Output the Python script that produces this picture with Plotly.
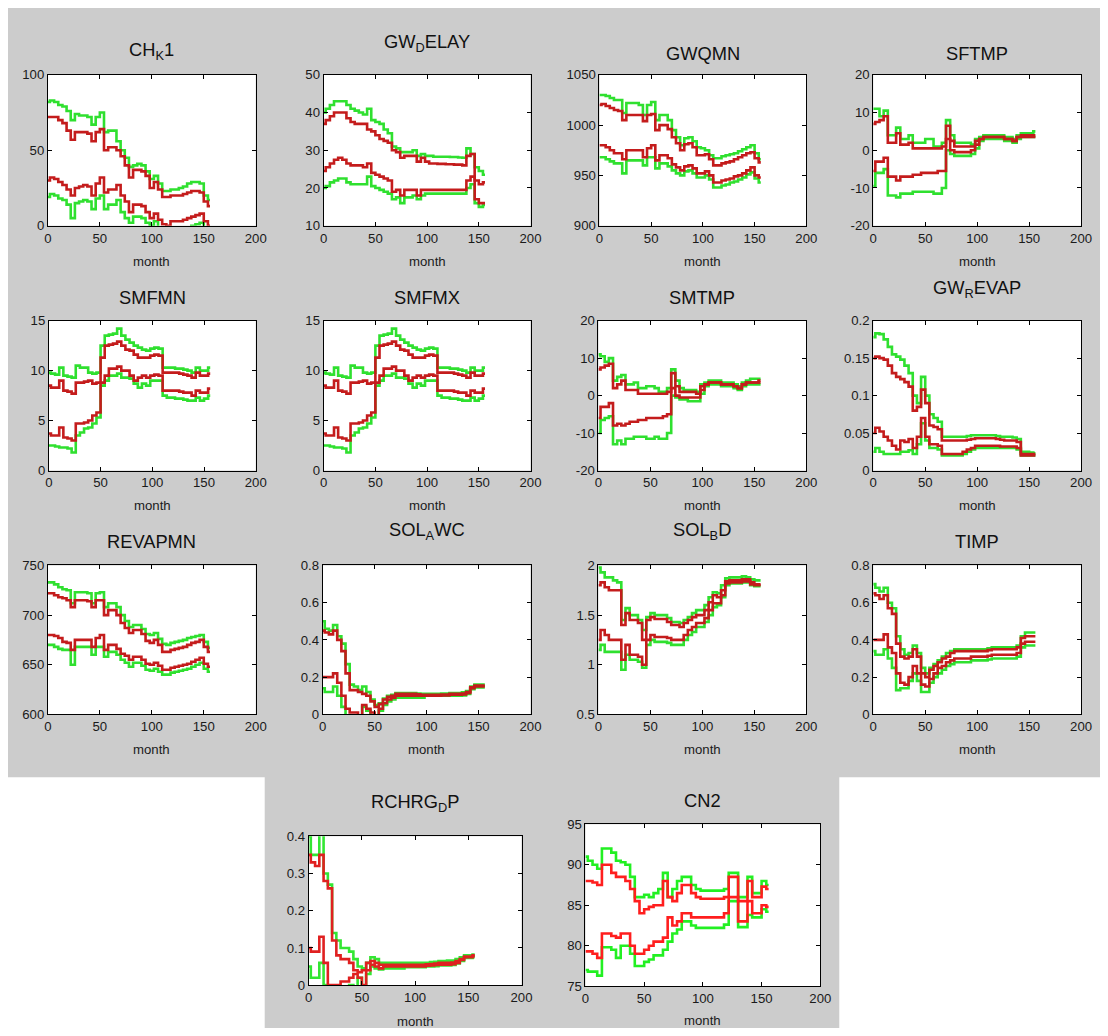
import plotly.graph_objects as go

PAGE_MARGIN = 8               # default body margin of the html page
FW, FH = 1092, 1020           # figure size (fits the 1108x1036 window with the body margin)
months = list(range(0, 157, 4))

# ---------------- data (values at months 0,4,...,156) ----------------
chk1_gup = [82,83,82,80,79,76,70,74,73,73,72,67,72,75,62,63,63,56,50,45,39,40,41,40,36,31,33,28,23,23,24,24,25,26,28,29,29,28,20,17]
chk1_rup = [72,72,72,70,68,63,57,62,62,62,61,56,62,64,50,52,52,50,46,40,32,37,37,36,33,25,29,24,19,19,20,20,20,21,22,23,23,22,16,13]
chk1_rlo = [30,32,31,29,27,24,20,25,26,27,26,20,28,32,22,24,24,27,20,16,9,14,14,13,9,5,8,4,1,0,3,3,3,4,5,6,7,8,3,0]
chk1_glo = [19,21,20,18,17,14,5,15,16,17,16,11,18,20,11,14,14,17,9,5,2,6,6,5,2,0,3,-2,-4,-5,-3,-3,-3,-2,-1,0,1,2,-2,-5]

gwd_gup = [40,41,42,43,43,43,42,41,40.5,40,39.5,41,38,37.5,37,35.5,34.5,31,30.5,29.5,29.5,29.5,30,28.5,29,28.5,28.5,28.3,28.3,28.3,28.3,28.2,28.2,28.1,28,30.5,29,25.5,24.5,23.5]
gwd_rup = [37,38,39,40,40,40,38.5,37.5,37,37,37,35.5,35,34,33,32.5,32,30,29.5,28,28.5,28.5,28.5,27,28,27,26.5,26.5,26.4,26.4,26.3,26.3,26.2,26.2,26,28.5,29,22,21,21.5]
gwd_rlo = [24.5,25.5,26.5,27.5,28,27.5,26.5,26,26,26,25.5,26.5,24,23.5,23,22.5,22,19,19.5,18,19.5,19.5,19.5,18,19.5,19.5,19.5,19.5,19.5,19.5,19.5,19.5,19.5,19.5,19.5,22,23,17,16,16]
gwd_glo = [20,20.5,21.5,22,22.5,22.5,21.5,21,21,21,21,23,20.5,20,19.5,19,18.5,17,17.5,16,17.5,17.5,18,17,18,18.5,18.5,18.5,18.5,18.5,18.5,18.5,18.5,18.5,18.5,20,21,16,15,15.5]

gwq_gup = [1030,1030,1029,1027,1025,1025,1012,1022,1022,1022,1020,1010,1020,1023,1005,1010,1010,1005,995,988,980,987,988,984,978,977,975,970,967,967,969,970,971,972,974,976,978,980,972,966]
gwq_rup = [1020,1021,1019,1017,1015,1014,1005,1010,1010,1010,1010,1004,1010,1011,995,1000,1000,996,988,982,975,981,982,978,970,970,971,966,960,960,962,963,964,966,968,970,972,973,967,963]
gwq_rlo = [980,980,978,975,972,972,966,975,975,975,975,968,977,980,965,970,970,967,961,958,955,959,960,957,952,952,954,950,943,943,945,946,947,949,950,952,955,958,950,948]
gwq_glo = [968,968,966,964,962,962,952,965,965,965,965,960,968,968,957,962,962,959,955,952,950,954,955,952,948,948,950,946,938,938,940,941,943,944,946,948,951,953,947,943]

sft_gup = [11,11,9,10.5,4,4,6,3,3,4,2,2,2,3,3,1,1,2,8,4,2,2,2,2,1.5,3,3.5,4,4,4,4,4,3.5,3.5,3,4,4.5,4.5,4.5,5]
sft_rup = [7,7.5,8,9,2,2,4.5,1.5,1.5,2,0.5,0.5,0.5,0.5,0.5,0.5,0.5,1,6.5,2.5,1,1,1,1,1,2.5,3,3.5,3.5,3.5,3.5,3.5,3,3,2.5,3.5,4,4,4,4]
sft_rlo = [-5.5,-3,-3,-2,-7,-7,-8,-7,-7,-7,-6.5,-6.5,-6,-6,-6,-6,-5.5,-5.5,3,0,-0.5,-0.5,-0.5,-0.5,0,1.5,3,3.5,3.5,3.5,3.5,3.5,3,3,2.5,3.5,3.5,3.5,3.5,3.5]
sft_glo = [-9.5,-6,-6,-5,-12,-12,-12.5,-11.5,-11.5,-11.5,-11,-11,-11,-11,-11,-11.5,-11.5,-10,0,-1,-1.5,-1.5,-1.5,-1.5,-1,0.5,2.5,3,3,3,3,3,2.5,2.5,2,3,3.5,3.5,3.5,3.5]

smn_gup = [9.8,9.7,9.6,10.3,9.5,9.4,9.3,10.5,10.3,10.3,9.8,9.7,9.8,12.5,13.5,13.6,13.7,14.2,13.5,13.1,12.8,12.5,12.3,12.1,12,12.2,12.3,12.2,10.3,10.3,10.3,10.2,10.2,10.1,10,9.8,10.3,10,10,10.3]
smn_rup = [8.5,8.3,8.3,9,8,7.9,7.7,8.8,8.8,8.9,9,8.7,8.8,11.3,12.5,12.6,12.7,12.9,12.5,12.1,12,11.6,11.3,11.3,11.3,11.5,11.6,11.5,9.8,9.8,9.8,9.8,9.7,9.6,9.5,9.3,9.8,9.5,9.5,9.7]
smn_rlo = [3.7,3.5,3.5,4.3,3.3,3.2,3,4.7,4.7,4.8,5,5.5,5.8,8.8,9.5,10.2,10.2,10.4,10,10,9.5,9,9.3,9.5,9.3,9.5,9.6,9.5,8,8,8,8,7.9,7.8,7.8,7.5,8,7.8,7.8,8.2]
smn_glo = [2.5,2.5,2.4,2.3,2.3,2.2,1.8,3.5,3.8,4.2,4.3,4.7,5.3,8.5,9,9.5,9.5,9.7,9.3,9.3,9.2,8.7,8.3,8.7,8.5,9,9,9,7.5,7.3,7.3,7.2,7.2,7.1,7,7,7.3,7,7.2,7.5]

smx_gup = [9.8,9.7,9.6,10.3,9.5,9.4,9.3,10.5,10.3,10.3,9.8,9.7,9.8,12.5,13.5,13.6,13.7,14.2,13.5,13.1,12.8,12.5,12.3,12.1,12,12.2,12.3,12.2,10.3,10.3,10.3,10.2,10.2,10.1,10,9.8,10.3,10,10,10.3]
smx_rup = [8.5,8.3,8.3,9,8,7.9,7.7,8.8,8.8,8.9,9,8.7,8.8,11.3,12.5,12.6,12.7,12.9,12.5,12.1,12,11.6,11.3,11.3,11.3,11.5,11.6,11.5,9.8,9.8,9.8,9.8,9.7,9.6,9.5,9.3,9.8,9.5,9.5,9.7]
smx_rlo = [3.7,3.5,3.5,4.3,3.3,3.2,3,4.7,4.7,4.8,5,5.5,5.8,8.8,9.5,10.2,10.2,10.4,10,10,9.5,9,9.3,9.5,9.3,9.5,9.6,9.5,8,8,8,8,7.9,7.8,7.8,7.5,8,7.8,7.8,8.2]
smx_glo = [2.5,2.5,2.4,2.3,2.3,2.2,1.8,3.5,3.8,4.2,4.3,4.7,5.3,8.5,9,9.5,9.5,9.7,9.3,9.3,9.2,8.7,8.3,8.7,8.5,9,9,9,7.5,7.3,7.3,7.2,7.2,7.1,7,7,7.3,7,7.2,7.5]

smt_gup = [11,10.5,9,10,4,5,5.5,3,3,3.5,2,2,2.5,2.5,2,1,1,2,7,4,2,1.5,1.5,1.5,1,3,3.5,4,4,4,3.5,3.5,3.5,3,2.5,3.5,4,4.5,4.5,4.5]
smt_rup = [7,7.5,8,8.5,2,3,4,1.5,1.5,1.5,0.5,0.5,0.5,0.5,0.5,0.5,0.5,1,6,2.5,1,1,1,1,0.5,2.5,3,3.5,3.5,3.5,3,3,3,2.5,2,3,3.5,3.5,3.5,4]
smt_rlo = [-6,-3,-3,-2,-8,-7.5,-8,-7.5,-7,-7,-6.5,-6.5,-6,-6,-6,-6,-5.5,-5,2,0,-0.5,-0.5,-0.5,-0.5,-0.5,1.5,3,3.5,3.5,3.5,3,3,3,2.5,2,3,3.5,3.5,3.5,3.5]
smt_glo = [-10,-6.5,-6,-5.5,-13,-12,-13,-11.5,-11.5,-11,-11,-11,-11.5,-11.5,-11,-11.5,-11.5,-10,0,-0.5,-1,-1,-1.5,-1.5,-1.5,0.5,2.5,3,3,3,2.5,2.5,2.5,2,1.5,2.5,3,3,3,3]

gwr_gup = [.178,.183,.182,.175,.165,.155,.152,.148,.14,.13,.1,.09,.125,.1,.075,.07,.065,.045,.045,.045,.045,.045,.045,.046,.047,.047,.047,.047,.047,.047,.046,.045,.045,.045,.044,.042,.025,.025,.024,.023]
gwr_rup = [.15,.152,.15,.148,.14,.13,.125,.122,.118,.112,.08,.085,.108,.09,.06,.058,.055,.04,.04,.04,.04,.04,.04,.041,.042,.043,.043,.043,.043,.043,.042,.041,.04,.04,.04,.038,.022,.022,.022,.022]
gwr_rlo = [.05,.057,.052,.045,.04,.033,.028,.04,.038,.042,.03,.045,.07,.045,.035,.035,.033,.022,.022,.022,.022,.022,.025,.028,.03,.033,.033,.033,.033,.033,.033,.032,.032,.032,.032,.03,.02,.02,.02,.02]
gwr_glo = [.025,.03,.025,.022,.022,.022,.022,.025,.025,.027,.022,.035,.063,.04,.03,.03,.028,.02,.02,.02,.02,.02,.022,.025,.028,.03,.03,.03,.03,.03,.03,.03,.03,.03,.03,.028,.02,.02,.02,.02]

rev_gup = [733,733,731,728,726,725,712,723,723,723,722,712,722,723,708,712,712,708,700,694,688,690,690,686,681,680,682,676,671,670,672,673,674,675,677,678,679,680,673,667]
rev_rup = [722,722,720,718,717,715,708,715,715,715,714,708,715,715,700,705,705,700,692,687,682,685,685,681,674,672,675,670,663,663,665,666,667,668,670,672,673,675,668,663]
rev_rlo = [680,680,679,677,673,672,665,675,675,675,675,668,677,680,665,670,670,666,661,659,655,658,658,655,651,650,652,649,645,645,647,648,649,650,651,653,655,657,651,648]
rev_glo = [670,670,668,666,665,665,650,668,668,668,668,660,668,668,658,663,663,660,655,652,648,652,652,649,645,644,646,643,640,640,642,643,644,645,646,648,650,652,646,643]

awc_gup = [.5,.46,.45,.48,.42,.38,.27,.16,.15,.13,.15,.12,.08,.05,.06,.085,.1,.105,.115,.115,.115,.115,.115,.112,.11,.11,.11,.11,.11,.112,.112,.115,.115,.115,.118,.125,.15,.16,.16,.16]
awc_rup = [.45,.44,.43,.45,.4,.34,.22,.13,.13,.12,.11,.1,.07,.04,.055,.08,.095,.1,.11,.11,.11,.11,.11,.108,.105,.105,.105,.105,.105,.107,.107,.11,.11,.11,.112,.12,.145,.155,.155,.155]
awc_rlo = [.2,.2,.2,.22,.17,.1,.03,.01,.01,-.01,.05,.03,.01,-.01,.03,.06,.08,.09,.1,.1,.1,.1,.1,.1,.1,.1,.1,.1,.1,.102,.102,.105,.105,.105,.107,.115,.14,.15,.15,.15]
awc_glo = [.14,.12,.12,.15,.1,.04,-.02,-.03,-.03,-.03,.04,.02,-.01,-.02,.02,.05,.07,.08,.09,.09,.09,.09,.09,.09,.09,.1,.1,.1,.1,.1,.1,.1,.1,.1,.102,.11,.135,.145,.145,.145]

sbd_gup = [1.98,1.93,1.88,1.88,1.85,1.83,1.45,1.57,1.5,1.5,1.45,1.35,1.48,1.52,1.5,1.5,1.5,1.47,1.43,1.43,1.42,1.45,1.48,1.52,1.55,1.55,1.6,1.68,1.73,1.72,1.8,1.87,1.88,1.88,1.88,1.89,1.88,1.86,1.85,1.85]
sbd_rup = [1.8,1.83,1.78,1.75,1.75,1.75,1.4,1.52,1.45,1.45,1.42,1.25,1.45,1.48,1.46,1.46,1.46,1.43,1.4,1.4,1.38,1.42,1.45,1.48,1.5,1.5,1.55,1.63,1.7,1.68,1.75,1.84,1.85,1.85,1.85,1.86,1.86,1.83,1.81,1.81]
sbd_rlo = [1.25,1.35,1.3,1.25,1.25,1.25,1.05,1.2,1.1,1.1,1.08,1.0,1.25,1.3,1.28,1.28,1.28,1.27,1.25,1.25,1.25,1.3,1.35,1.38,1.42,1.42,1.47,1.55,1.62,1.62,1.7,1.82,1.83,1.83,1.83,1.84,1.84,1.81,1.8,1.8]
sbd_glo = [1.15,1.2,1.13,1.13,1.13,1.13,0.95,1.1,1.05,1.05,1.03,0.97,1.2,1.25,1.23,1.23,1.23,1.22,1.2,1.2,1.2,1.25,1.3,1.33,1.38,1.38,1.43,1.5,1.58,1.6,1.68,1.8,1.82,1.82,1.82,1.83,1.83,1.8,1.79,1.79]

timp_gup = [.7,.68,.66,.68,.6,.57,.42,.35,.32,.33,.37,.33,.25,.22,.25,.27,.29,.31,.33,.34,.35,.35,.35,.35,.35,.35,.35,.35,.355,.36,.36,.36,.36,.36,.36,.37,.42,.44,.44,.44]
timp_rup = [.65,.64,.62,.64,.57,.54,.38,.31,.3,.31,.35,.31,.22,.2,.24,.26,.28,.3,.31,.33,.34,.34,.34,.34,.34,.34,.34,.34,.345,.35,.35,.35,.35,.35,.35,.36,.41,.42,.42,.42]
timp_rlo = [.4,.4,.4,.43,.36,.33,.22,.17,.16,.2,.26,.22,.16,.15,.19,.22,.25,.26,.28,.29,.3,.3,.3,.3,.31,.31,.31,.31,.315,.32,.32,.32,.32,.32,.32,.33,.38,.39,.39,.39]
timp_glo = [.34,.32,.32,.35,.3,.25,.13,.14,.14,.18,.22,.18,.12,.12,.17,.2,.22,.24,.26,.27,.28,.28,.28,.28,.29,.29,.29,.29,.295,.3,.3,.3,.3,.3,.3,.31,.36,.37,.37,.37]

rch_gup = [.4,.35,.35,.45,.3,.27,.14,.12,.1,.1,.09,.07,.05,.045,.06,.075,.07,.06,.06,.06,.06,.06,.06,.06,.06,.06,.06,.06,.06,.062,.063,.065,.065,.066,.066,.07,.075,.08,.08,.082]
rch_rup = [.35,.33,.32,.35,.28,.26,.12,.08,.07,.07,.06,.04,.035,.04,.06,.065,.06,.055,.055,.055,.055,.055,.055,.055,.055,.055,.055,.055,.056,.057,.058,.06,.06,.06,.061,.065,.07,.077,.077,.08]
rch_rlo = [.1,.09,.09,.13,.06,0,0,0,.01,.01,.02,.03,.02,0,.04,.055,.05,.045,.05,.05,.05,.05,.05,.05,.05,.05,.05,.05,.052,.053,.054,.055,.055,.055,.056,.06,.068,.075,.075,.078]
rch_glo = [.05,.02,.02,.06,0,-.03,-.03,-.03,-.03,-.03,0,-.01,.02,-.01,.03,.05,.045,.042,.045,.045,.045,.045,.045,.048,.048,.048,.048,.048,.05,.05,.051,.053,.053,.053,.054,.058,.065,.073,.073,.075]

cn2_gup = [91,90.5,90,89.5,92,92,91.5,90.5,90.3,90,88.5,86,86,86.3,86,86.5,87,89,86,87,88,88.5,88.5,87.5,87,86.8,86.8,86.8,86.8,86.8,87,89,89,86,86,88.5,86.5,86.5,88,87.5]
cn2_rup = [88,88,87.8,87.5,90,90,89,88.5,88.5,88,87,85.5,84,84.5,84.8,85,85,88,86,85.5,86.5,87.5,87.5,86.5,86,85.8,85.8,85.8,85.8,85.8,86,88.5,88.5,85.5,85.5,88,86,86,87.3,87]
cn2_rlo = [79.3,79.3,79,78.5,81.5,81.5,81.2,81,81.5,81.5,80,79,79,79.5,80,80.5,80.5,81,83.5,82.5,83,84,84,83.5,83.5,83.5,83.5,83.5,83.5,83.5,84,86,86,83,83,85.5,84,84,85,84.8]
cn2_glo = [77,76.8,76.8,76.3,79.8,79.8,79.5,78.5,80,80,79,77.5,77.5,78,78.3,78.8,78.8,79.5,80.5,81.5,82,83,83,82.5,82.2,82.2,82.2,82.2,82.2,82.2,82.6,85.5,85.5,82.3,82.3,83.8,83.5,83.5,84.5,84.2]

titles = ["CH<sub>K</sub>1", "GW<sub>D</sub>ELAY", "GWQMN", "SFTMP",
          "SMFMN", "SMFMX", "SMTMP", "GW<sub>R</sub>EVAP",
          "REVAPMN", "SOL<sub>A</sub>WC", "SOL<sub>B</sub>D", "TIMP",
          "RCHRG<sub>D</sub>P", "CN2"]
series = [
    (chk1_gup, chk1_rup, chk1_rlo, chk1_glo),
    (gwd_gup, gwd_rup, gwd_rlo, gwd_glo),
    (gwq_gup, gwq_rup, gwq_rlo, gwq_glo),
    (sft_gup, sft_rup, sft_rlo, sft_glo),
    (smn_gup, smn_rup, smn_rlo, smn_glo),
    (smx_gup, smx_rup, smx_rlo, smx_glo),
    (smt_gup, smt_rup, smt_rlo, smt_glo),
    (gwr_gup, gwr_rup, gwr_rlo, gwr_glo),
    (rev_gup, rev_rup, rev_rlo, rev_glo),
    (awc_gup, awc_rup, awc_rlo, awc_glo),
    (sbd_gup, sbd_rup, sbd_rlo, sbd_glo),
    (timp_gup, timp_rup, timp_rlo, timp_glo),
    (rch_gup, rch_rup, rch_rlo, rch_glo),
    (cn2_gup, cn2_rup, cn2_rlo, cn2_glo),
]
ytick_values = [
    [0, 50, 100], [10, 20, 30, 40, 50], [900, 950, 1000, 1050], [-20, -10, 0, 10, 20],
    [0, 5, 10, 15], [0, 5, 10, 15], [-20, -10, 0, 10, 20], [0, 0.05, 0.1, 0.15, 0.2],
    [600, 650, 700, 750], [0, 0.2, 0.4, 0.6, 0.8], [0.5, 1, 1.5, 2], [0, 0.2, 0.4, 0.6, 0.8],
    [0, 0.1, 0.2, 0.3, 0.4], [75, 80, 85, 90, 95],
]
xtick_values = [0, 50, 100, 150, 200]

# ---------------- layout, in reference-picture pixels: left, right, top, bottom; title y; month y ----------------
boxes = [
    (51, 259, 75, 226, 51, 262), (327, 534, 75, 226, 43, 262), (603, 810, 75, 226, 54, 262), (877, 1085, 75, 226, 54, 262),
    (52, 259, 321, 471, 298, 506), (327, 534, 321, 471, 298, 506), (602, 810, 321, 471, 298, 506), (877, 1085, 321, 471, 289, 506),
    (51, 259, 566, 715, 542, 750), (326, 534, 566, 715, 532, 750), (602, 810, 566, 715, 532, 750), (877, 1085, 566, 715, 542, 750),
    (312, 525, 837, 986, 804, 1022), (589, 824, 825, 987, 801, 1021),
]

# the photographed picture comes out shrunk slightly about its centre; compensate
CX, CY, SX, SY = 554, 518, 0.987, 0.986

GREEN = "#2fe02f"
RED = "#c41c1c"
NARROW = "Liberation Sans Narrow, Liberation Sans, Arial"
TICKFONT = dict(family=NARROW, size=13.2, color="#1a1a1a")


def px(v):
    page = CX + (v - CX) / SX
    return (page - PAGE_MARGIN) / FW


def py(v):
    page = CY + (v - CY) / SY
    return 1 - (page - PAGE_MARGIN) / FH


fig = go.Figure()
annotations = []
for i, (title, (gup, rup, rlo, glo), ytv, box) in enumerate(zip(titles, series, ytick_values, boxes)):
    l, r, t, b, ty, my = box
    n = "" if i == 0 else str(i + 1)
    green, red = GREEN, RED
    if i == 13:
        green, red = "#22f022", "#ff1e1e"
    elif i == 12:
        green, red = "#33e633", "#e02020"
    for vals, col in ((gup, green), (glo, green), (rup, red), (rlo, red)):
        fig.add_trace(go.Scatter(x=months, y=vals, mode="lines", line=dict(color=col, width=2.6, shape="hvh"),
                                 xaxis="x" + n, yaxis="y" + n, showlegend=False, hoverinfo="skip"))
    axcommon = dict(showline=True, linecolor="black", linewidth=1, mirror="ticks", ticks="inside",
                    ticklen=4, tickcolor="black", showgrid=False, zeroline=False, tickfont=TICKFONT,
                    tickmode="array")
    fig.layout["xaxis" + n] = dict(domain=[px(l), px(r)], range=[0, 200], tickvals=xtick_values,
                                   ticktext=["%g" % v for v in xtick_values], anchor="y" + n, **axcommon)
    fig.layout["yaxis" + n] = dict(domain=[py(b), py(t)], range=[ytv[0], ytv[-1]], tickvals=ytv,
                                   ticktext=["%g" % v for v in ytv], anchor="x" + n, **axcommon)
    annotations.append(dict(text=title, x=px((l + r) / 2), y=py(ty), xref="paper", yref="paper",
                            showarrow=False, xanchor="center", yanchor="middle",
                            font=dict(family="Liberation Sans, Arial", size=18.3, color="#111111")))
    annotations.append(dict(text="month", x=px((l + r) / 2), y=py(my), xref="paper", yref="paper",
                            showarrow=False, xanchor="center", yanchor="middle",
                            font=dict(family=NARROW, size=13.2, color="#1a1a1a")))

shapes = []
for (x0, y0, x1, y1) in [(0, 778, 268, 1036), (843, 778, 1108, 1036)]:
    shapes.append(dict(type="rect", xref="paper", yref="paper", x0=px(x0), x1=px(x1), y0=py(y1), y1=py(y0),
                       fillcolor="white", line=dict(width=0), layer="below"))

fig.update_layout(width=FW, height=FH, margin=dict(l=0, r=0, t=0, b=0), autosize=False,
                  paper_bgcolor="#cccccc", plot_bgcolor="white",
                  annotations=annotations, shapes=shapes, showlegend=False)

fig.write_html("out.html", config={"displayModeBar": False})
